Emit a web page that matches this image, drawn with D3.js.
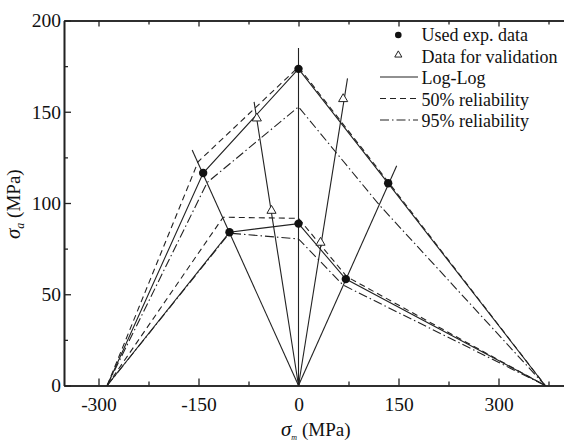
<!DOCTYPE html>
<html>
<head>
<meta charset="utf-8">
<script src="https://cdn.jsdelivr.net/npm/d3@7"></script>
<style>
  body { margin: 0; background: #fff; }
  svg { display: block; }
  svg text { font-family: "Liberation Serif", "DejaVu Serif", serif; font-size: 18px; fill: #111; }
  svg .tick text { font-size: 19.5px; }
</style>
</head>
<body>
<div id="container"></div>
<script>
// experimental points
const usedX = [-143, -103.5, 0, 0, 71, 134.5];
const usedY = [116.4, 84, 173.5, 88.7, 58.3, 110.8];
const validX = [-62.5, -40.5, 33, 67];
const validY = [146.4, 95.8, 78.3, 157];

// constant stress-ratio rays, drawn from the origin to these ends
const rayX = [-159.5, -66.6, 0, 73.5, 147.3];
const rayY = [129, 155.4, 185, 168.3, 120.4];

// Haigh curves (sigma_m, sigma_a)
const upperLogX = [-287, -143, 0, 134.5, 370];
const upperLogY = [0, 116.4, 173.5, 110.8, 0];
const upper50X = [-287, -150.6, 0, 134.5, 370];
const upper50Y = [0, 122.6, 174.5, 111.6, 0];
const upper95X = [-287, -137, 0, 121, 370];
const upper95Y = [0, 111.2, 152.7, 99, 0];
const lowerLogX = [-287, -103.5, 0, 71, 370];
const lowerLogY = [0, 84, 88.7, 58.3, 0];
const lower50X = [-287, -113, 0, 72.5, 370];
const lower50Y = [0, 92.2, 91.6, 59.6, 0];
const lower95X = [-287, -103.5, 0, 67, 370];
const lower95Y = [0, 83.5, 80.3, 55, 0];

const xMajor = [-300, -150, 0, 150, 300];
const xMinor = [-225, -75, 75, 225, 375];
const yMajor = [0, 50, 100, 150, 200];
const yMinor = [25, 75, 125, 175];

const legendLabels = ["Used exp. data", "Data for validation", "Log-Log", "50% reliability", "95% reliability"];

const w = 564, h = 442;
const svg = d3.select("#container").append("svg").attr("width", w).attr("height", h);

const x = d3.scaleLinear().domain([-351.75, 398.25]).range([64, 564]);
const y = d3.scaleLinear().domain([0, 200]).range([385.5, 20.5]);

const DASH = "6,4";
const DASHDOT = "9,3,1.5,3";

// axes (ticks inward)
const xAxisG = svg.append("g").attr("transform", `translate(0,${y(0)})`);
xAxisG.call(d3.axisBottom(x).tickValues(xMajor).tickSizeInner(-7).tickSizeOuter(0).tickPadding(12).tickFormat(d => String(d)));
const xMinorG = svg.append("g").attr("transform", `translate(0,${y(0)})`);
xMinorG.call(d3.axisBottom(x).tickValues(xMinor).tickSizeInner(-4).tickSizeOuter(0).tickFormat(""));

const topG = svg.append("g").attr("transform", `translate(0,${y(200)})`);
topG.call(d3.axisTop(x).tickValues(xMajor).tickSizeInner(-6).tickSizeOuter(0).tickFormat(""));
const topMinorG = svg.append("g").attr("transform", `translate(0,${y(200)})`);
topMinorG.call(d3.axisTop(x).tickValues(xMinor).tickSizeInner(-4).tickSizeOuter(0).tickFormat(""));

const yAxisG = svg.append("g").attr("transform", `translate(${x.range()[0]},0)`);
yAxisG.call(d3.axisLeft(y).tickValues(yMajor).tickSizeInner(-7).tickSizeOuter(0).tickPadding(3).tickFormat(d => String(d)));
const yMinorG = svg.append("g").attr("transform", `translate(${x.range()[0]},0)`);
yMinorG.call(d3.axisLeft(y).tickValues(yMinor).tickSizeInner(-4).tickSizeOuter(0).tickFormat(""));

svg.selectAll("g").attr("font-family", null).attr("font-size", null);
svg.selectAll(".domain").attr("stroke", "#222").attr("stroke-width", 1.6);
svg.selectAll(".tick line").attr("stroke", "#222").attr("stroke-width", 1.3);
svg.selectAll(".tick text").attr("fill", "#111");

// rays from origin
svg.append("g").selectAll("line")
  .data(rayX.map((d, i) => [d, rayY[i]]))
  .enter().append("line")
  .attr("x1", x(0)).attr("y1", y(0))
  .attr("x2", d => x(d[0])).attr("y2", d => y(d[1]))
  .attr("stroke", "#222").attr("stroke-width", 1.1);

// curves
const line = d3.line().x(d => x(d[0])).y(d => y(d[1]));
const curves = [
  [upperLogX, upperLogY, null],
  [upper50X, upper50Y, DASH],
  [upper95X, upper95Y, DASHDOT],
  [lowerLogX, lowerLogY, null],
  [lower50X, lower50Y, DASH],
  [lower95X, lower95Y, DASHDOT]
];
curves.forEach(c => {
  svg.append("path")
    .datum(c[0].map((d, i) => [d, c[1][i]]))
    .attr("d", line)
    .attr("fill", "none")
    .attr("stroke", "#222")
    .attr("stroke-width", 1.1)
    .attr("stroke-dasharray", c[2]);
});

// markers
const tri = d3.symbol().type(d3.symbolTriangle).size(36);
svg.append("g").selectAll("path")
  .data(validX.map((d, i) => [d, validY[i]]))
  .enter().append("path")
  .attr("d", tri)
  .attr("transform", d => `translate(${x(d[0])},${y(d[1])})`)
  .attr("fill", "#fff").attr("stroke", "#222").attr("stroke-width", 1);

svg.append("g").selectAll("circle")
  .data(usedX.map((d, i) => [d, usedY[i]]))
  .enter().append("circle")
  .attr("cx", d => x(d[0])).attr("cy", d => y(d[1]))
  .attr("r", 4.2).attr("fill", "#111");

// legend
const lg = svg.append("g");
const lgTextX = 421.5, lgY0 = 35, lgStep = 21.5;
legendLabels.forEach((t, i) => {
  lg.append("text").attr("x", lgTextX).attr("y", lgY0 + i * lgStep).attr("dy", "0.35em").text(t);
});
lg.append("circle").attr("cx", 398.3).attr("cy", lgY0).attr("r", 3.3).attr("fill", "#111");
lg.append("path").attr("d", d3.symbol().type(d3.symbolTriangle).size(22))
  .attr("transform", `translate(398.3,${lgY0 + lgStep - 1.5})`)
  .attr("fill", "#fff").attr("stroke", "#222").attr("stroke-width", 1);
[null, DASH, DASHDOT].forEach((dash, i) => {
  lg.append("line")
    .attr("x1", 380).attr("x2", 418)
    .attr("y1", lgY0 + (i + 2) * lgStep - 1).attr("y2", lgY0 + (i + 2) * lgStep - 1)
    .attr("stroke", "#222").attr("stroke-width", 1.1)
    .attr("stroke-dasharray", dash);
});

// axis titles
const xt = svg.append("text").attr("x", 281).attr("y", 436).style("font-size", "19px");
xt.append("tspan").attr("font-style", "italic").style("font-size", "21px").text("σ");
xt.append("tspan").style("font-size", "8px").attr("dy", 4).attr("font-style", "italic").text("m");
xt.append("tspan").attr("x", 302).attr("dy", -4).text("(MPa)");

const yt = svg.append("text").attr("transform", "translate(20,239) rotate(-90)").style("font-size", "19px");
yt.append("tspan").attr("font-style", "italic").style("font-size", "21px").text("σ");
yt.append("tspan").style("font-size", "12px").attr("dy", 4).attr("font-style", "italic").text("a");
yt.append("tspan").attr("dy", -4).text(" (MPa)");
</script>
</body>
</html>
